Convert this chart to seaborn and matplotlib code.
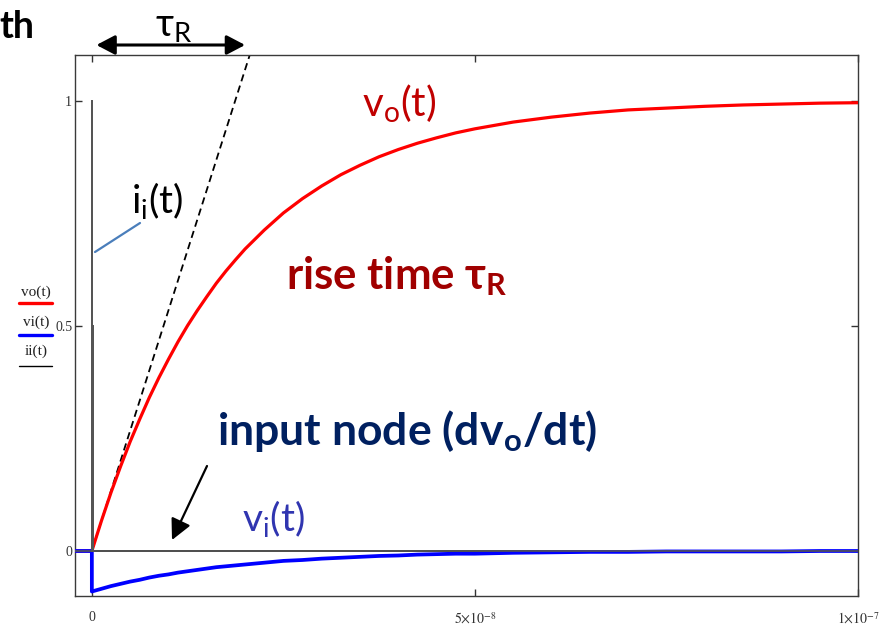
import numpy as np
import matplotlib
matplotlib.use("Agg")
import matplotlib.pyplot as plt
import seaborn as sns
from matplotlib.lines import Line2D
from matplotlib.patches import FancyArrowPatch

# ---- data -------------------------------------------------------------
# sample times in ns (step applied at t = 0)
t_ns = [-2.2, 0.0, 1.25, 2.5, 3.75, 5.0, 6.25, 7.5, 8.75, 10.0, 11.25, 12.5,
        13.75, 15.0, 16.25, 17.5, 18.75, 20.0, 22.5, 25.0, 27.5, 30.0, 32.5,
        35.0, 37.5, 40.0, 42.5, 45.0, 47.5, 50.0, 55.0, 60.0, 65.0, 70.0,
        75.0, 80.0, 85.0, 90.0, 95.0, 100.0]

# output node voltage vo(t)
vo = [0.0, 0.0, 0.067, 0.130, 0.188, 0.243, 0.293, 0.341, 0.385, 0.426,
      0.465, 0.501, 0.534, 0.565, 0.595, 0.622, 0.647, 0.671, 0.713, 0.751,
      0.783, 0.811, 0.836, 0.857, 0.876, 0.892, 0.906, 0.918, 0.929, 0.938,
      0.953, 0.964, 0.973, 0.980, 0.984, 0.988, 0.991, 0.993, 0.995, 0.996]

# input node voltage vi(t): value just before the step, then the samples
vi_before = 0.0
vi = [0.0, -0.090, -0.084, -0.078, -0.073, -0.068, -0.064, -0.059, -0.055,
      -0.052, -0.048, -0.045, -0.042, -0.039, -0.036, -0.034, -0.032, -0.030,
      -0.026, -0.022, -0.020, -0.017, -0.015, -0.013, -0.011, -0.010, -0.008,
      -0.007, -0.006, -0.006, -0.004, -0.003, -0.002, -0.002, -0.001, -0.001,
      -0.001, -0.001, 0.0, 0.0]

# input current ii(t): narrow spike at the step
t_ii_ns = [-2.2, 0.0, 0.0, 0.0, 0.15, 0.15, 0.15, 100.0]
ii = [0.0, 0.0, 1.0, 0.0, 0.0, 0.5, 0.0, 0.0]

# rise time (tangent at t = 0 reaches 1 here), seconds
tau_R = 1.87e-8

x_ticks = [0.0, 5e-8, 1e-7]
x_tick_labels = ["0", r"$5{\times}10^{-8}$", r"$1{\times}10^{-7}$"]
y_ticks = [0.0, 0.5, 1.0]
y_tick_labels = ["0", "0.5", "1"]
legend_names = ["vo(t)", "vi(t)", "ii(t)"]
legend_colors = ["#ff0000", "#0000ff", "#000000"]

# ---- style ------------------------------------------------------------
sns.set_theme(style="white")
plt.rcParams["font.family"] = ["Lato", "DejaVu Sans"]
plt.rcParams["mathtext.fontset"] = "custom"
plt.rcParams["mathtext.rm"] = "Lato"
plt.rcParams["mathtext.it"] = "Lato:italic"
plt.rcParams["mathtext.bf"] = "Lato:bold"

W, H = 892, 628
fig = plt.figure(figsize=(W / 100, H / 100), dpi=100)
fig.patch.set_facecolor("white")


def fp(x, y):
    """pixel position -> figure fraction"""
    return x / W, 1 - y / H


ax = fig.add_axes([75 / W, 1 - 596 / H, (858 - 75) / W, (596 - 55) / H])
ax.set_facecolor("white")

t = np.array(t_ns) * 1e-9
# vi has a second sample at t = 0 (drop at the step)
t_vi = np.concatenate([[t[0], 0.0], t[1:]])
vi_full = [vi_before] + vi

# zero axis line
ax.axhline(0, color="black", lw=1.1, zorder=1)

sns.lineplot(x=t, y=vo, ax=ax, color="#ff0000", lw=2.3, estimator=None,
             sort=False, zorder=3)
sns.lineplot(x=t_vi, y=vi_full, ax=ax, color="#0000ff", lw=2.7,
             estimator=None, sort=False, zorder=4)
sns.lineplot(x=np.array(t_ii_ns) * 1e-9, y=ii, ax=ax, color="#555555",
             lw=1.2, estimator=None, sort=False, zorder=5)

ax.set_xlim(-2.2e-9, 1e-7)
ax.set_ylim(-0.1, 1.102)

# tangent to vo at t = 0, from the origin up to the top of the frame
y_top = ax.get_ylim()[1]
ax.plot([0, tau_R * y_top], [0, y_top], color="black", lw=1.3,
        ls=(0, (4, 2.5)), zorder=2, clip_on=True)

ax.set_xticks(x_ticks)
ax.set_xticklabels(x_tick_labels)
ax.set_yticks(y_ticks)
ax.set_yticklabels(y_tick_labels)
for lab in ax.get_xticklabels() + ax.get_yticklabels():
    lab.set_math_fontfamily("stix")
    lab.set_fontfamily("Liberation Serif")
    lab.set_fontsize(10)
    lab.set_color("#333333")
ax.tick_params(axis="both", direction="in", length=5, width=1,
               color="#333333", top=True, right=True, bottom=True, left=True)
ax.tick_params(axis="x", pad=11)
ax.tick_params(axis="y", pad=2)
for s in ax.spines.values():
    s.set_color("#3a3a3a")
    s.set_linewidth(1.0)

# ---- legend (trace names above line samples) --------------------------
leg_text_y = [292, 322, 351]
leg_line_y = [303, 335, 366]
for name, col, ty, ly in zip(legend_names, legend_colors, leg_text_y, leg_line_y):
    fig.text(*fp(36, ty), name, ha="center", va="center", fontsize=11,
             family="Liberation Serif", color="#222222")
    fig.add_artist(Line2D([19 / W, 52 / W], [1 - ly / H, 1 - ly / H],
                          color=col, lw=2.4 if col != "#000000" else 1.0))

# ---- annotations ------------------------------------------------------
fig.text(*fp(-1, 38), "th", fontsize=27, fontweight="bold", color="black",
         ha="left", va="baseline")

fig.text(*fp(155, 36), r"τ$_{\mathrm{R}}$", fontsize=28, color="black",
         ha="left", va="baseline")
ax.annotate("", xy=(20.0e-9, 1 - 45 / H), xytext=(0.6e-9, 1 - 45 / H),
            xycoords=("data", "figure fraction"),
            textcoords=("data", "figure fraction"), annotation_clip=False,
            arrowprops=dict(arrowstyle="<|-|>,head_length=0.8,head_width=0.42",
                            mutation_scale=14, lw=2.2, color="black",
                            shrinkA=0, shrinkB=0))

fig.text(*fp(362, 117), r"v$_{\mathrm{o}}$(t)", fontsize=29, color="#c00000",
         ha="left", va="baseline")
fig.text(*fp(286, 289), r"rise time τ$_{\mathbf{R}}$", fontsize=31.5,
         fontweight="bold", color="#a00000", ha="left", va="baseline")
fig.text(*fp(131, 213), r"i$_{\mathrm{i}}$(t)", fontsize=28, color="black",
         ha="left", va="baseline")
fig.add_artist(Line2D([95 / W, 140 / W], [1 - 252 / H, 1 - 223 / H],
                      color="#4a7ebb", lw=1.6))
fig.text(*fp(217, 445), r"input node (dv$_{\mathbf{o}}$/dt)", fontsize=32,
         fontweight="bold", color="#002060", ha="left", va="baseline")
fig.text(*fp(242, 531), r"v$_{\mathrm{i}}$(t)", fontsize=28, color="#3035b0",
         ha="left", va="baseline")
fig.add_artist(FancyArrowPatch(
    fp(207, 466), fp(172, 540), transform=fig.transFigure,
    arrowstyle="-|>,head_length=0.9,head_width=0.45", mutation_scale=14,
    lw=1.6, color="black", shrinkA=0, shrinkB=0))

fig.savefig("out.png", dpi=100, facecolor="white")
